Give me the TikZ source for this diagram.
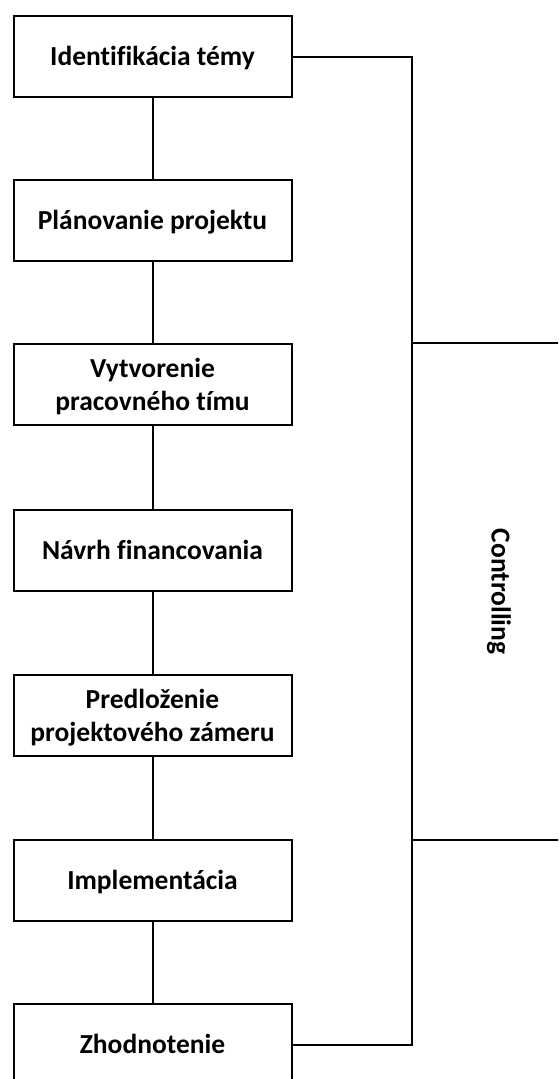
\documentclass[tikz,border=0pt]{standalone}
\usepackage{fontspec}
\setmainfont{Carlito}[Ligatures=NoCommon]
\begin{document}
\newcommand{\mystrut}{\rule[-0.269em]{0pt}{1.221em}}
\begin{tikzpicture}[x=1pt,y=-1pt,
  stagebox/.style={draw=black, line width=2pt, fill=white, minimum width=278pt, minimum height=81pt,
    inner sep=0pt, align=center, font=\fontsize{27.5}{33.6}\selectfont\bfseries},
  link/.style={draw=black, line width=2pt},
  sidelabel/.style={inner sep=0pt, rotate=-90, font=\fontsize{27.5}{33.6}\selectfont\bfseries}]
\useasboundingbox (0,0) rectangle (558,1079);
\clip (0,0) rectangle (558,1079);
\node[stagebox] (b1) at (152.5,56.5) {\mystrut Identifikácia témy};
\node[stagebox] (b2) at (152.5,220) {\mystrut Plánovanie projektu};
\node[stagebox] (b3) at (152.5,384.5) {\mystrut Vytvorenie\\\mystrut pracovného tímu};
\node[stagebox] (b4) at (152.5,550) {\mystrut Návrh financovania};
\node[stagebox] (b5) at (152.5,715.5) {\mystrut Predloženie\\\mystrut projektového zámeru};
\node[stagebox] (b6) at (152.5,880.5) {\mystrut Implementácia};
\node[stagebox] (b7) at (152.5,1044.5) {\mystrut Zhodnotenie};
\draw[link] (b1) -- (b2);
\draw[link] (b2) -- (b3);
\draw[link] (b3) -- (b4);
\draw[link] (b4) -- (b5);
\draw[link] (b5) -- (b6);
\draw[link] (b6) -- (b7);
\coordinate (ctop) at (412,56.5);
\coordinate (cbot) at (412,1044.5);
\draw[link] (b1.east) -- (ctop) -- (cbot) -- (b7.east);
\coordinate (h1a) at (412,343);
\coordinate (h1b) at (562,343);
\coordinate (h2a) at (412,840);
\coordinate (h2b) at (562,840);
\draw[link] (h1a) -- (h1b);
\draw[link] (h2a) -- (h2b);
\node[sidelabel] (ctrl) at (501,591.5) {\mystrut Controlling};
\end{tikzpicture}
\end{document}
